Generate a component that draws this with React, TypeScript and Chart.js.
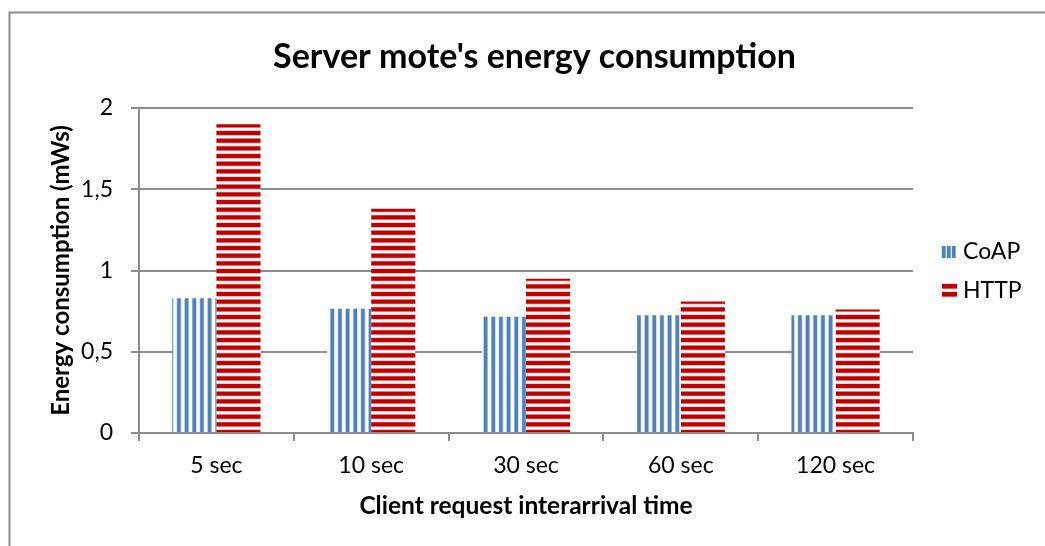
import { useEffect, useRef } from 'react';
import { Chart, registerables } from 'chart.js';

Chart.register(...registerables);

const categories = ['5 sec', '10 sec', '30 sec', '60 sec', '120 sec'];
const coapValues = [0.83, 0.765, 0.715, 0.725, 0.725];
const httpValues = [1.9, 1.38, 0.95, 0.81, 0.76];
const yTickLabels = ['0', '0,5', '1', '1,5', '2'];
const seriesNames = ['CoAP', 'HTTP'];
const chartTitle = "Server mote's energy consumption";
const xTitle = 'Client request interarrival time';
const yTitle = 'Energy consumption (mWs)';

const FONT = 'Lato, "Open Sans", sans-serif';
const GRAY = '#8c8c8c';

function makeTile(kind: 'v' | 'h'): HTMLCanvasElement {
  const c = document.createElement('canvas');
  c.width = 23;
  c.height = 23;
  const g = c.getContext('2d')!;
  g.fillStyle = '#ffffff';
  g.fillRect(0, 0, 23, 23);
  for (let i = 0; i < 3; i++) {
    const p = (i * 23) / 3;
    if (kind === 'v') {
      g.fillStyle = '#bcd0e8';
      g.fillRect(p + 0.2, 0, 4.8, 23);
      g.fillStyle = '#4f81bd';
      g.fillRect(p + 0.9, 0, 3.4, 23);
    } else {
      g.fillStyle = '#eeb0b0';
      g.fillRect(0, p, 23, 5.4);
      g.fillStyle = '#c00000';
      g.fillRect(0, p + 0.7, 23, 4);
    }
  }
  return c;
}

export default function App() {
  const ref = useRef<HTMLCanvasElement | null>(null);

  useEffect(() => {
    const canvas = ref.current!;
    const ctx = canvas.getContext('2d')!;
    const bluePat = ctx.createPattern(makeTile('v'), 'repeat')!;
    const redPat = ctx.createPattern(makeTile('h'), 'repeat')!;

    const decor = {
      id: 'decor',
      beforeDraw(chart: any) {
        const c = chart.ctx;
        c.save();
        c.fillStyle = '#ffffff';
        c.fillRect(0, 0, chart.width, chart.height);
        c.strokeStyle = GRAY;
        c.lineWidth = 2;
        c.beginPath();
        c.moveTo(9.5, 600);
        c.lineTo(9.5, 12.5);
        c.lineTo(1100, 12.5);
        c.stroke();
        c.restore();
      },
      afterDraw(chart: any) {
        const c = chart.ctx;
        c.save();
        c.fillStyle = '#000000';
        c.textAlign = 'center';
        c.textBaseline = 'middle';
        c.font = `bold 34px ${FONT}`;
        c.fillText(chartTitle, 534.5, 57);
        // legend swatches
        // CoAP: vertical stripes
        c.fillStyle = '#ffffff';
        c.fillRect(942, 246, 15, 12);
        c.fillRect(942, 284, 15, 13);
        c.fillStyle = '#bcd0e8';
        [941.5, 946.5, 951.5].forEach((x) => c.fillRect(x, 246, 4.5, 12));
        c.fillStyle = '#4f81bd';
        [942, 947, 952].forEach((x) => c.fillRect(x, 246, 3.5, 12));
        // HTTP: horizontal stripes
        c.fillStyle = '#eeb0b0';
        [283.5, 291.5].forEach((y) => c.fillRect(942, y, 15, 5.5));
        c.fillStyle = '#c00000';
        [284, 292].forEach((y) => c.fillRect(942, y, 15, 4.5));
        const ys = [252, 290.5];
        c.textAlign = 'left';
        c.font = `23px ${FONT}`;
        c.fillStyle = '#000000';
        seriesNames.forEach((name, i) => {
          c.fillText(name, 963, ys[i]);
        });
        c.restore();
      },
    };

    const chart = new Chart(canvas, {
      type: 'bar',
      data: {
        labels: categories,
        datasets: [
          { label: seriesNames[0], data: coapValues, backgroundColor: bluePat as any, borderWidth: 0 },
          { label: seriesNames[1], data: httpValues, backgroundColor: redPat as any, borderWidth: 0 },
        ],
      },
      options: {
        animation: false,
        responsive: false,
        events: [],
        layout: { padding: { top: 108, right: 132, bottom: 0, left: 0 } },
        datasets: { bar: { categoryPercentage: 0.57, barPercentage: 1.0 } },
        plugins: {
          legend: { display: false },
          title: { display: false },
          tooltip: { enabled: false },
        },
        scales: {
          x: {
            afterFit: (s: any) => {
              s.height = 113;
            },
            grid: {
              display: true,
              drawOnChartArea: false,
              drawTicks: true,
              tickLength: 8,
              offset: true,
              color: GRAY,
              lineWidth: 2,
            },
            border: { display: true, color: GRAY, width: 2 },
            ticks: { color: '#000000', font: { family: FONT, size: 23 }, padding: 11, maxRotation: 0 },
            title: {
              display: true,
              text: xTitle,
              color: '#000000',
              font: { family: FONT, size: 24.5, weight: 'bold' },
              padding: { top: 0, bottom: 25 },
            },
          },
          y: {
            min: 0,
            max: 2,
            afterFit: (s: any) => {
              s.width = 139;
            },
            grid: { color: GRAY, lineWidth: 2, tickLength: 8, drawTicks: true },
            border: { display: true, color: GRAY, width: 2 },
            ticks: {
              stepSize: 0.5,
              color: '#000000',
              font: { family: FONT, size: 23 },
              padding: 18,
              callback: (_v: any, i: number) => yTickLabels[i],
            },
            title: {
              display: true,
              text: yTitle,
              color: '#000000',
              font: { family: FONT, size: 24, weight: 'bold' },
              padding: { top: 46.5, bottom: 0 },
            },
          },
        },
      },
      plugins: [decor],
    });
    return () => chart.destroy();
  }, []);

  return (
    <div style={{ position: 'fixed', left: 0, top: 0, width: 1045, height: 546, background: '#fff' }}>
      <canvas ref={ref} width={1045} height={546} style={{ display: 'block', width: 1045, height: 546 }} />
    </div>
  );
}
